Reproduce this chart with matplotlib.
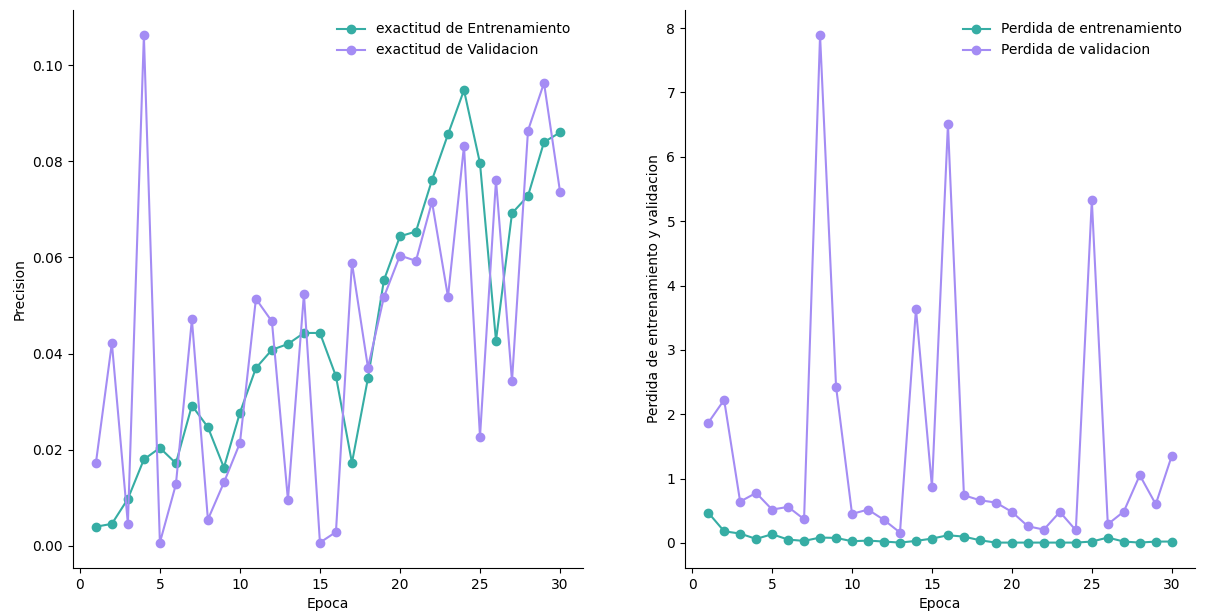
import matplotlib
matplotlib.use("Agg")
import matplotlib.pyplot as plt

epochs = list(range(1, 31))

train_acc = [0.0040, 0.0046, 0.0098, 0.0180, 0.0204, 0.0172, 0.0292, 0.0247, 0.0163, 0.0277,
             0.0370, 0.0408, 0.0420, 0.0443, 0.0443, 0.0353, 0.0173, 0.0349, 0.0553, 0.0644,
             0.0654, 0.0761, 0.0856, 0.0948, 0.0796, 0.0427, 0.0692, 0.0728, 0.0840, 0.0860]
val_acc = [0.0172, 0.0422, 0.0046, 0.1062, 0.0007, 0.0128, 0.0471, 0.0055, 0.0132, 0.0214,
           0.0514, 0.0467, 0.0096, 0.0524, 0.0007, 0.0029, 0.0589, 0.0371, 0.0518, 0.0604,
           0.0593, 0.0716, 0.0518, 0.0832, 0.0227, 0.0761, 0.0343, 0.0864, 0.0963, 0.0737]

train_loss = [0.472, 0.181, 0.145, 0.062, 0.135, 0.052, 0.031, 0.083, 0.078, 0.026,
              0.036, 0.021, 0.005, 0.031, 0.067, 0.119, 0.098, 0.041, 0.005, 0.005,
              0.005, 0.005, 0.005, 0.005, 0.021, 0.083, 0.021, 0.005, 0.021, 0.021]
val_loss = [1.865, 2.223, 0.642, 0.777, 0.518, 0.560, 0.368, 7.888, 2.430, 0.451,
            0.518, 0.357, 0.161, 3.637, 0.870, 6.508, 0.741, 0.663, 0.627, 0.482,
            0.259, 0.207, 0.482, 0.197, 5.327, 0.290, 0.487, 1.052, 0.601, 1.352]

green = "#36ada4"
purple = "#a48cf4"

fig = plt.figure(figsize=(12.07, 6.16), dpi=100)
ax1 = fig.add_axes([0.0602, 0.0780, 0.4230, 0.9058])
ax2 = fig.add_axes([0.5675, 0.0780, 0.4225, 0.9058])

ax1.plot(epochs, train_acc, marker="o", color=green, label="exactitud de Entrenamiento")
ax1.plot(epochs, val_acc, marker="o", color=purple, label="exactitud de Validacion")
ax1.set_xlabel("Epoca")
ax1.set_ylabel("Precision")
ax1.legend(loc="upper right", frameon=False)

ax2.plot(epochs, train_loss, marker="o", color=green, label="Perdida de entrenamiento")
ax2.plot(epochs, val_loss, marker="o", color=purple, label="Perdida de validacion")
ax2.set_xlabel("Epoca")
ax2.set_ylabel("Perdida de entrenamiento y validacion")
ax2.legend(loc="upper right", frameon=False)

for ax in (ax1, ax2):
    ax.spines["top"].set_visible(False)
    ax.spines["right"].set_visible(False)

fig.savefig("out.png", dpi=100)
